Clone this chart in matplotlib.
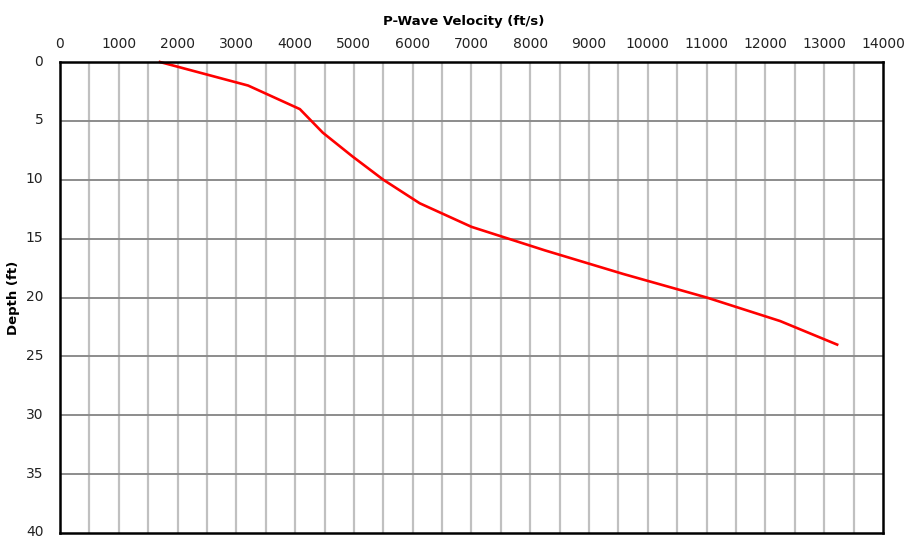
import matplotlib
matplotlib.use("Agg")
import matplotlib.pyplot as plt
import matplotlib.transforms as mtransforms
import numpy as np

# depth profile
depth_ft = [0, 2, 4, 6, 8, 10, 12, 14, 16, 18, 20, 22, 24]
vp_fts = [1700, 3200, 4080, 4470, 4970, 5500, 6120, 7000, 8250, 9580, 11000, 12250, 13220]

x_ticks = np.arange(0, 14001, 1000)
y_ticks = np.arange(0, 41, 5)

plt.rcParams["font.family"] = ["DejaVu Sans"]

fig = plt.figure(figsize=(9.15, 5.39), dpi=100)
ax = fig.add_axes([60 / 915, 1 - 533 / 539, (883 - 60) / 915, (533 - 62) / 539])

# vertical grid every 500, horizontal every 5
for xv in np.arange(500, 14000, 500):
    ax.axvline(xv, color="#c0c0c0", lw=1.6, zorder=1)
for yv in np.arange(5, 40, 5):
    ax.axhline(yv, color="#8c8c8c", lw=1.4, zorder=1)

ax.plot(vp_fts, depth_ft, color="#ff0000", lw=1.9, zorder=3, clip_on=False)

ax.set_xlim(0, 14000)
ax.set_ylim(40, 0)
ax.xaxis.tick_top()
ax.xaxis.set_label_position("top")
ax.set_xticks(x_ticks)
ax.set_yticks(y_ticks)
ax.tick_params(axis="both", length=0, labelsize=10, colors="#222222")
ax.tick_params(axis="x", pad=8)
ax.tick_params(axis="y", pad=12)
for s in ax.spines.values():
    s.set_linewidth(1.8)
    s.set_color("black")
    s.set_zorder(4)

# nudge depth labels up a touch so "40" stays inside the canvas
shift = mtransforms.ScaledTranslation(0, 2 / 100, fig.dpi_scale_trans)
for lab in ax.get_yticklabels():
    lab.set_transform(lab.get_transform() + shift)

ax.set_xlabel("P-Wave Velocity (ft/s)", fontsize=9.5, fontweight="bold")
ax.xaxis.set_label_coords(0.49, 1.079)
ax.set_ylabel("Depth (ft)", fontsize=9.5, fontweight="bold")
ax.yaxis.set_label_coords(-0.049, 0.5)

fig.savefig("out.png", dpi=100)
